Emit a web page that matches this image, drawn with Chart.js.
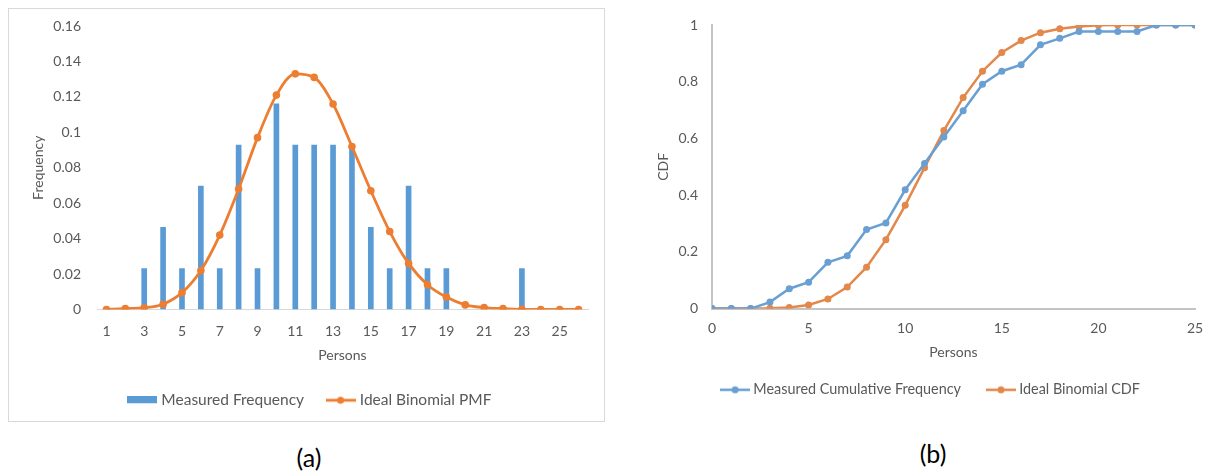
<!DOCTYPE html>
<html>
<head>
<meta charset="utf-8">
<script src="https://cdn.jsdelivr.net/npm/chart.js@4"></script>
<style>
  body { margin: 0; background: #fff; width: 1205px; height: 472px; position: relative; overflow: hidden; font-family: Lato, sans-serif; }
  #boxA { position: absolute; left: 8px; top: 8px; width: 597px; height: 414px; border: 1px solid #d9d9d9; box-sizing: border-box; }
  #chartA { position: absolute; left: 9px; top: 9px; }
  #chartB { position: absolute; left: 655px; top: 0px; }
  .cap { position: absolute; font-size: 25px; color: #000; transform: translate(-50%, -50%); white-space: nowrap; }
</style>
</head>
<body>
<div id="boxA"></div>
<canvas id="chartA" width="595" height="411"></canvas>
<canvas id="chartB" width="550" height="410"></canvas>
<div class="cap" style="left:309px; top:457px;">(a)</div>
<div class="cap" style="left:933px; top:453px;">(b)</div>
<script>
// (a) probability mass
const persons = [1, 2, 3, 4, 5, 6, 7, 8, 9, 10, 11, 12, 13, 14, 15, 16, 17, 18, 19, 20, 21, 22, 23, 24, 25, 26];
const measuredFreq = [0, 0, 0.0233, 0.0465, 0.0233, 0.0698, 0.0233, 0.093, 0.0233, 0.1163, 0.093, 0.093, 0.093, 0.093,
  0.0465, 0.0233, 0.0698, 0.0233, 0.0233, 0, 0, 0, 0.0233, 0, 0, 0];
const idealPMF = [0, 0.0005, 0.001, 0.003, 0.0095, 0.022, 0.042, 0.068, 0.097, 0.121, 0.133, 0.131, 0.116, 0.092,
  0.067, 0.044, 0.026, 0.014, 0.007, 0.0026, 0.0011, 0.0005, 0.0001, 0, 0, 0];

// (b) cumulative
const cdfPersons = [0, 1, 2, 3, 4, 5, 6, 7, 8, 9, 10, 11, 12, 13, 14, 15, 16, 17, 18, 19, 20, 21, 22, 23, 24, 25];
const measuredCDF = [0, 0, 0, 0.023, 0.07, 0.093, 0.163, 0.186, 0.279, 0.302, 0.419, 0.512, 0.605, 0.698, 0.791,
  0.837, 0.86, 0.93, 0.953, 0.977, 0.977, 0.977, 0.977, 1, 1, 1];
const idealCDF = [0, 0, 0, 0.001, 0.004, 0.013, 0.034, 0.076, 0.146, 0.243, 0.364, 0.497, 0.628, 0.744, 0.837,
  0.903, 0.945, 0.973, 0.987, 0.995, 0.999, 1, 1, 1, 1, 1];

const blue = '#5B9BD5';
const orange = '#ED7D31';
const blueB = '#6A9FD3';
const orangeB = '#E3874A';
const textGray = '#595959';

Chart.defaults.font.family = 'Lato, sans-serif';
Chart.defaults.font.size = 14;
Chart.defaults.color = textGray;

// tick text like the spreadsheet: 0.1, 1, 0
const plainNum = v => String(+Number(v).toFixed(2));

// keep label overhang from pushing the plot area around
function noOverhang(s) {
  s.paddingTop = 0; s.paddingBottom = 0;
  s.paddingLeft = 0; s.paddingRight = 0;
}

// nudge the legend sideways without moving the plot
function legendNudge(dx) {
  return {
    id: 'legendNudge',
    afterLayout(chart) {
      chart.legend.left += dx;
      chart.legend.right += dx;
    }
  };
}

// little legend icons
function rectIcon(color) {
  const c = document.createElement('canvas');
  c.width = 30; c.height = 8;
  const g = c.getContext('2d');
  g.fillStyle = color;
  g.fillRect(0, 0, 30, 7);
  return c;
}
function lineIcon(color, w) {
  const c = document.createElement('canvas');
  c.width = 30; c.height = 10;
  const g = c.getContext('2d');
  g.strokeStyle = color;
  g.lineWidth = w;
  g.beginPath(); g.moveTo(0, 5); g.lineTo(30, 5); g.stroke();
  g.fillStyle = color;
  g.beginPath(); g.arc(15, 5, 3.5, 0, Math.PI * 2); g.fill();
  return c;
}
function legendItem(text, icon) {
  return { text: text, pointStyle: icon, fillStyle: 'transparent', strokeStyle: 'transparent', lineWidth: 0, hidden: false, fontColor: textGray };
}

new Chart(document.getElementById('chartA'), {
  data: {
    labels: persons,
    datasets: [
      {
        type: 'bar',
        label: 'Measured Frequency',
        data: measuredFreq,
        backgroundColor: blue,
        barPercentage: 0.3,
        categoryPercentage: 1,
        order: 2
      },
      {
        type: 'line',
        label: 'Ideal Binomial PMF',
        data: idealPMF,
        borderColor: orange,
        backgroundColor: orange,
        borderWidth: 2.8,
        pointRadius: 3.8,
        pointBorderWidth: 0,
        cubicInterpolationMode: 'monotone',
        order: 1
      }
    ]
  },
  plugins: [legendNudge(2)],
  options: {
    responsive: false,
    animation: false,
    layout: { padding: { left: 21, top: 17, right: 16, bottom: 2 } },
    plugins: {
      tooltip: { enabled: false },
      legend: {
        position: 'bottom',
        labels: {
          usePointStyle: true,
          pointStyleWidth: 23,
          padding: 25,
          font: { size: 15.5 },
          generateLabels: () => [
            legendItem('Measured Frequency', rectIcon(blue)),
            legendItem('Ideal Binomial PMF', lineIcon(orange, 2.8))
          ]
        }
      }
    },
    scales: {
      x: {
        afterFit: s => { s.height = 58; noOverhang(s); },
        grid: { display: false, drawTicks: false },
        border: { display: true, color: '#d9d9d9', width: 1 },
        ticks: {
          autoSkip: false,
          maxRotation: 0,
          padding: 14,
          callback: function (v, i) { return i % 2 === 0 ? this.getLabelForValue(v) : ''; }
        },
        title: { display: true, text: 'Persons', padding: { top: 0, bottom: 3.6 } }
      },
      y: {
        afterFit: s => { s.width = 67; noOverhang(s); },
        min: 0,
        max: 0.16,
        ticks: { stepSize: 0.02, padding: 16, callback: plainNum },
        grid: { display: false, drawTicks: false },
        border: { display: false },
        title: { display: true, text: 'Frequency', padding: { top: 0, bottom: 6 } }
      }
    }
  }
});

new Chart(document.getElementById('chartB'), {
  type: 'line',
  data: {
    datasets: [
      {
        label: 'Measured Cumulative Frequency',
        data: cdfPersons.map((x, i) => ({ x: x, y: measuredCDF[i] })),
        borderColor: blueB,
        backgroundColor: blueB,
        borderWidth: 2.5,
        pointRadius: 3.5,
        pointBorderWidth: 0
      },
      {
        label: 'Ideal Binomial CDF',
        data: cdfPersons.map((x, i) => ({ x: x, y: idealCDF[i] })),
        borderColor: orangeB,
        backgroundColor: orangeB,
        borderWidth: 2.5,
        pointRadius: 3.5,
        pointBorderWidth: 0
      }
    ]
  },
  plugins: [legendNudge(7)],
  options: {
    responsive: false,
    animation: false,
    layout: { padding: { left: 0, top: 25, right: 10, bottom: 3 } },
    plugins: {
      tooltip: { enabled: false },
      legend: {
        position: 'bottom',
        labels: {
          usePointStyle: true,
          pointStyleWidth: 22,
          padding: 29,
          font: { size: 14.4 },
          generateLabels: () => [
            legendItem('Measured Cumulative Frequency', lineIcon(blueB, 2.5)),
            legendItem('Ideal Binomial CDF', lineIcon(orangeB, 2.5))
          ]
        }
      }
    },
    scales: {
      x: {
        afterFit: s => { s.height = 45; noOverhang(s); },
        type: 'linear',
        min: 0,
        max: 25,
        ticks: { stepSize: 5, padding: 11 },
        grid: { display: false, drawTicks: false },
        border: { display: true, color: '#c4c4c4', width: 2 },
        title: { display: true, text: 'Persons', padding: { top: 0, bottom: -7.4 } }
      },
      y: {
        afterFit: s => { s.width = 57; noOverhang(s); },
        min: 0,
        max: 1,
        ticks: { stepSize: 0.2, padding: 14, callback: plainNum },
        grid: { display: false, drawTicks: false },
        border: { display: true, color: '#c4c4c4', width: 2 },
        title: { display: true, text: 'CDF', padding: { top: 0, bottom: 6 } }
      }
    }
  }
});
</script>
</body>
</html>
